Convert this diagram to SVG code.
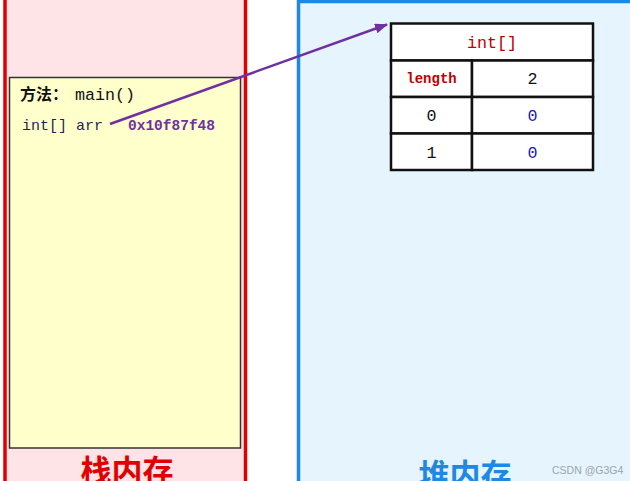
<svg xmlns="http://www.w3.org/2000/svg" width="630" height="481" viewBox="0 0 630 481">
<style>
.mono{font-family:"Liberation Mono","DejaVu Sans Mono",monospace}
.cell{fill:#ffffff;stroke:#111111;stroke-width:2.5}
.cjk{font-family:"Noto Sans CJK SC","Noto Sans",sans-serif;font-weight:bold}
</style>
<defs>
<marker id="ah" markerWidth="13" markerHeight="10" refX="12" refY="5" orient="auto" markerUnits="userSpaceOnUse">
<path d="M0,0 L13,5 L0,10 Z" fill="#7030a0"/>
</marker>
</defs>
<rect width="630" height="481" fill="#ffffff"/>
<g id="stack">
<rect x="5" y="-10" width="240.5" height="500" fill="#ffe4e7" stroke="#e00000" stroke-width="3.5"/>
<text x="127" y="482" text-anchor="middle" class="cjk" font-size="31" fill="#e00000">栈内存</text>
</g>
<g id="heap">
<rect x="298.5" y="1.5" width="340" height="500" fill="#e6f4fd" stroke="#1e88e5" stroke-width="3.5"/>
<text x="465" y="486" text-anchor="middle" class="cjk" font-size="31" fill="#1e88e5">堆内存</text>
</g>
<g id="frame-main">
<rect x="9.5" y="77.5" width="231" height="370.5" fill="#ffffcc" stroke="#333333" stroke-width="1.5"/>
<text x="20" y="100" class="cjk" font-size="16" fill="#111111">方法：</text>
<text x="75" y="100" class="mono" font-size="16.7" fill="#111111">main()</text>
<text x="22" y="130" class="mono" font-size="15" fill="#1f1f5a">int[] arr</text>
<text x="128" y="130" class="mono" font-size="14.5" font-weight="bold" fill="#7030a0">0x10f87f48</text>
</g>
<g id="array">
<rect class="cell" x="391" y="23.5" width="202" height="37"/>
<rect class="cell" x="391" y="60.5" width="81" height="36.5"/>
<rect class="cell" x="472" y="60.5" width="121" height="36.5"/>
<rect class="cell" x="391" y="97" width="81" height="36.5"/>
<rect class="cell" x="472" y="97" width="121" height="36.5"/>
<rect class="cell" x="391" y="133.5" width="81" height="36.5"/>
<rect class="cell" x="472" y="133.5" width="121" height="36.5"/>
<text x="492" y="48" text-anchor="middle" class="mono" font-size="16.7" fill="#c00000">int[]</text>
<text x="431.5" y="83" text-anchor="middle" class="mono" font-size="14" font-weight="bold" fill="#c00000">length</text>
<text x="532.5" y="84" text-anchor="middle" class="mono" font-size="16.7" fill="#111111">2</text>
<text x="431.5" y="121" text-anchor="middle" class="mono" font-size="16.7" fill="#111111">0</text>
<text x="532.5" y="121" text-anchor="middle" class="mono" font-size="16.7" fill="#1a1ab8">0</text>
<text x="431.5" y="158" text-anchor="middle" class="mono" font-size="16.7" fill="#111111">1</text>
<text x="532.5" y="158" text-anchor="middle" class="mono" font-size="16.7" fill="#1a1ab8">0</text>
</g>
<g id="connectors">
<line x1="110" y1="124" x2="387" y2="24.5" stroke="#7030a0" stroke-width="2.5" marker-end="url(#ah)"/>
</g>
<text x="552" y="474" font-family="Liberation Sans,sans-serif" font-size="10.5" fill="#9aa4ad">CSDN @G3G4</text>
</svg>
